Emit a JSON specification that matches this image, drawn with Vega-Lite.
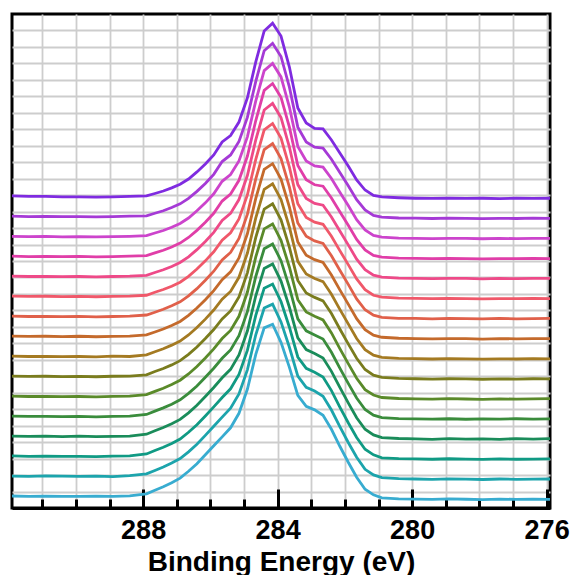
{
"$schema": "https://vega.github.io/schema/vega-lite/v6.json",
"autosize": {"type": "none"},
"width": 538,
"height": 494,
"padding": {"left": 12, "top": 14, "right": 23, "bottom": 67},
"background": "white",
"config": {"view": {"stroke": "black", "strokeWidth": 3}, "font": "Liberation Sans"},
"data": {"values": [
{"s":0,"e":291.9,"y":0.73},{"s":0,"e":291.4,"y":0.71},{"s":0,"e":290.9,"y":0.72},{"s":0,"e":290.4,"y":0.70},{"s":0,"e":289.9,"y":0.71},{"s":0,"e":289.4,"y":0.72},{"s":0,"e":288.9,"y":0.70},{"s":0,"e":288.4,"y":0.74},{"s":0,"e":287.9,"y":0.86},{"s":0,"e":287.65,"y":1.08},{"s":0,"e":287.4,"y":1.29},{"s":0,"e":287.15,"y":1.53},{"s":0,"e":286.9,"y":1.81},{"s":0,"e":286.65,"y":2.23},{"s":0,"e":286.4,"y":2.69},{"s":0,"e":286.15,"y":3.23},{"s":0,"e":285.9,"y":3.78},{"s":0,"e":285.65,"y":4.32},{"s":0,"e":285.4,"y":4.87},{"s":0,"e":285.15,"y":5.75},{"s":0,"e":284.9,"y":7.21},{"s":0,"e":284.65,"y":9.33},{"s":0,"e":284.4,"y":10.94},{"s":0,"e":284.15,"y":11.16},{"s":0,"e":283.9,"y":10.06},{"s":0,"e":283.65,"y":8.54},{"s":0,"e":283.4,"y":6.84},{"s":0,"e":283.15,"y":6.18},{"s":0,"e":282.9,"y":5.96},{"s":0,"e":282.65,"y":5.63},{"s":0,"e":282.4,"y":4.78},{"s":0,"e":282.15,"y":3.75},{"s":0,"e":281.9,"y":2.78},{"s":0,"e":281.65,"y":1.87},{"s":0,"e":281.4,"y":1.14},{"s":0,"e":281.15,"y":0.80},{"s":0,"e":280.9,"y":0.62},{"s":0,"e":280.4,"y":0.56},{"s":0,"e":279.9,"y":0.54},{"s":0,"e":279.4,"y":0.52},{"s":0,"e":278.9,"y":0.55},{"s":0,"e":278.4,"y":0.53},{"s":0,"e":277.9,"y":0.51},{"s":0,"e":277.4,"y":0.54},{"s":0,"e":276.9,"y":0.52},{"s":0,"e":276.4,"y":0.53},{"s":0,"e":275.9,"y":0.52},
{"s":1,"e":291.9,"y":1.94},{"s":1,"e":291.4,"y":1.92},{"s":1,"e":290.9,"y":1.95},{"s":1,"e":290.4,"y":1.93},{"s":1,"e":289.9,"y":1.92},{"s":1,"e":289.4,"y":1.94},{"s":1,"e":288.9,"y":1.91},{"s":1,"e":288.4,"y":1.96},{"s":1,"e":287.9,"y":2.07},{"s":1,"e":287.65,"y":2.28},{"s":1,"e":287.4,"y":2.49},{"s":1,"e":287.15,"y":2.73},{"s":1,"e":286.9,"y":3.00},{"s":1,"e":286.65,"y":3.41},{"s":1,"e":286.4,"y":3.87},{"s":1,"e":286.15,"y":4.41},{"s":1,"e":285.9,"y":4.96},{"s":1,"e":285.65,"y":5.52},{"s":1,"e":285.4,"y":6.06},{"s":1,"e":285.15,"y":6.93},{"s":1,"e":284.9,"y":8.39},{"s":1,"e":284.65,"y":10.52},{"s":1,"e":284.4,"y":12.14},{"s":1,"e":284.15,"y":12.38},{"s":1,"e":283.9,"y":11.30},{"s":1,"e":283.65,"y":9.76},{"s":1,"e":283.4,"y":8.01},{"s":1,"e":283.15,"y":7.33},{"s":1,"e":282.9,"y":7.10},{"s":1,"e":282.65,"y":6.79},{"s":1,"e":282.4,"y":5.95},{"s":1,"e":282.15,"y":4.94},{"s":1,"e":281.9,"y":3.98},{"s":1,"e":281.65,"y":3.08},{"s":1,"e":281.4,"y":2.35},{"s":1,"e":281.15,"y":2.01},{"s":1,"e":280.9,"y":1.84},{"s":1,"e":280.4,"y":1.78},{"s":1,"e":279.9,"y":1.76},{"s":1,"e":279.4,"y":1.74},{"s":1,"e":278.9,"y":1.77},{"s":1,"e":278.4,"y":1.75},{"s":1,"e":277.9,"y":1.73},{"s":1,"e":277.4,"y":1.76},{"s":1,"e":276.9,"y":1.74},{"s":1,"e":276.4,"y":1.75},{"s":1,"e":275.9,"y":1.76},
{"s":2,"e":291.9,"y":3.16},{"s":2,"e":291.4,"y":3.14},{"s":2,"e":290.9,"y":3.15},{"s":2,"e":290.4,"y":3.13},{"s":2,"e":289.9,"y":3.14},{"s":2,"e":289.4,"y":3.12},{"s":2,"e":288.9,"y":3.15},{"s":2,"e":288.4,"y":3.17},{"s":2,"e":287.9,"y":3.28},{"s":2,"e":287.65,"y":3.49},{"s":2,"e":287.4,"y":3.69},{"s":2,"e":287.15,"y":3.92},{"s":2,"e":286.9,"y":4.19},{"s":2,"e":286.65,"y":4.60},{"s":2,"e":286.4,"y":5.06},{"s":2,"e":286.15,"y":5.59},{"s":2,"e":285.9,"y":6.14},{"s":2,"e":285.65,"y":6.71},{"s":2,"e":285.4,"y":7.24},{"s":2,"e":285.15,"y":8.11},{"s":2,"e":284.9,"y":9.57},{"s":2,"e":284.65,"y":11.70},{"s":2,"e":284.4,"y":13.35},{"s":2,"e":284.15,"y":13.60},{"s":2,"e":283.9,"y":12.54},{"s":2,"e":283.65,"y":10.98},{"s":2,"e":283.4,"y":9.17},{"s":2,"e":283.15,"y":8.48},{"s":2,"e":282.9,"y":8.24},{"s":2,"e":282.65,"y":7.95},{"s":2,"e":282.4,"y":7.13},{"s":2,"e":282.15,"y":6.13},{"s":2,"e":281.9,"y":5.18},{"s":2,"e":281.65,"y":4.28},{"s":2,"e":281.4,"y":3.57},{"s":2,"e":281.15,"y":3.23},{"s":2,"e":280.9,"y":3.05},{"s":2,"e":280.4,"y":3.00},{"s":2,"e":279.9,"y":2.98},{"s":2,"e":279.4,"y":2.96},{"s":2,"e":278.9,"y":2.99},{"s":2,"e":278.4,"y":2.97},{"s":2,"e":277.9,"y":2.95},{"s":2,"e":277.4,"y":2.98},{"s":2,"e":276.9,"y":2.96},{"s":2,"e":276.4,"y":2.97},{"s":2,"e":275.9,"y":2.98},
{"s":3,"e":291.9,"y":4.37},{"s":3,"e":291.4,"y":4.35},{"s":3,"e":290.9,"y":4.36},{"s":3,"e":290.4,"y":4.34},{"s":3,"e":289.9,"y":4.36},{"s":3,"e":289.4,"y":4.33},{"s":3,"e":288.9,"y":4.35},{"s":3,"e":288.4,"y":4.37},{"s":3,"e":287.9,"y":4.48},{"s":3,"e":287.65,"y":4.69},{"s":3,"e":287.4,"y":4.89},{"s":3,"e":287.15,"y":5.12},{"s":3,"e":286.9,"y":5.38},{"s":3,"e":286.65,"y":5.78},{"s":3,"e":286.4,"y":6.24},{"s":3,"e":286.15,"y":6.77},{"s":3,"e":285.9,"y":7.32},{"s":3,"e":285.65,"y":7.91},{"s":3,"e":285.4,"y":8.42},{"s":3,"e":285.15,"y":9.29},{"s":3,"e":284.9,"y":10.75},{"s":3,"e":284.65,"y":12.89},{"s":3,"e":284.4,"y":14.55},{"s":3,"e":284.15,"y":14.82},{"s":3,"e":283.9,"y":13.78},{"s":3,"e":283.65,"y":12.19},{"s":3,"e":283.4,"y":10.33},{"s":3,"e":283.15,"y":9.62},{"s":3,"e":282.9,"y":9.38},{"s":3,"e":282.65,"y":9.11},{"s":3,"e":282.4,"y":8.30},{"s":3,"e":282.15,"y":7.32},{"s":3,"e":281.9,"y":6.38},{"s":3,"e":281.65,"y":5.48},{"s":3,"e":281.4,"y":4.78},{"s":3,"e":281.15,"y":4.44},{"s":3,"e":280.9,"y":4.27},{"s":3,"e":280.4,"y":4.22},{"s":3,"e":279.9,"y":4.20},{"s":3,"e":279.4,"y":4.17},{"s":3,"e":278.9,"y":4.21},{"s":3,"e":278.4,"y":4.18},{"s":3,"e":277.9,"y":4.20},{"s":3,"e":277.4,"y":4.17},{"s":3,"e":276.9,"y":4.21},{"s":3,"e":276.4,"y":4.18},{"s":3,"e":275.9,"y":4.21},
{"s":4,"e":291.9,"y":5.58},{"s":4,"e":291.4,"y":5.56},{"s":4,"e":290.9,"y":5.57},{"s":4,"e":290.4,"y":5.55},{"s":4,"e":289.9,"y":5.56},{"s":4,"e":289.4,"y":5.54},{"s":4,"e":288.9,"y":5.56},{"s":4,"e":288.4,"y":5.58},{"s":4,"e":287.9,"y":5.68},{"s":4,"e":287.65,"y":5.88},{"s":4,"e":287.4,"y":6.08},{"s":4,"e":287.15,"y":6.30},{"s":4,"e":286.9,"y":6.57},{"s":4,"e":286.65,"y":6.96},{"s":4,"e":286.4,"y":7.41},{"s":4,"e":286.15,"y":7.94},{"s":4,"e":285.9,"y":8.49},{"s":4,"e":285.65,"y":9.09},{"s":4,"e":285.4,"y":9.60},{"s":4,"e":285.15,"y":10.46},{"s":4,"e":284.9,"y":11.92},{"s":4,"e":284.65,"y":14.06},{"s":4,"e":284.4,"y":15.74},{"s":4,"e":284.15,"y":16.03},{"s":4,"e":283.9,"y":15.02},{"s":4,"e":283.65,"y":13.40},{"s":4,"e":283.4,"y":11.49},{"s":4,"e":283.15,"y":10.76},{"s":4,"e":282.9,"y":10.51},{"s":4,"e":282.65,"y":10.26},{"s":4,"e":282.4,"y":9.46},{"s":4,"e":282.15,"y":8.50},{"s":4,"e":281.9,"y":7.57},{"s":4,"e":281.65,"y":6.68},{"s":4,"e":281.4,"y":5.98},{"s":4,"e":281.15,"y":5.64},{"s":4,"e":280.9,"y":5.49},{"s":4,"e":280.4,"y":5.43},{"s":4,"e":279.9,"y":5.41},{"s":4,"e":279.4,"y":5.40},{"s":4,"e":278.9,"y":5.42},{"s":4,"e":278.4,"y":5.39},{"s":4,"e":277.9,"y":5.41},{"s":4,"e":277.4,"y":5.40},{"s":4,"e":276.9,"y":5.42},{"s":4,"e":276.4,"y":5.40},{"s":4,"e":275.9,"y":5.41},
{"s":5,"e":291.9,"y":6.80},{"s":5,"e":291.4,"y":6.77},{"s":5,"e":290.9,"y":6.78},{"s":5,"e":290.4,"y":6.76},{"s":5,"e":289.9,"y":6.77},{"s":5,"e":289.4,"y":6.75},{"s":5,"e":288.9,"y":6.78},{"s":5,"e":288.4,"y":6.79},{"s":5,"e":287.9,"y":6.89},{"s":5,"e":287.65,"y":7.08},{"s":5,"e":287.4,"y":7.27},{"s":5,"e":287.15,"y":7.50},{"s":5,"e":286.9,"y":7.76},{"s":5,"e":286.65,"y":8.14},{"s":5,"e":286.4,"y":8.59},{"s":5,"e":286.15,"y":9.11},{"s":5,"e":285.9,"y":9.66},{"s":5,"e":285.65,"y":10.29},{"s":5,"e":285.4,"y":10.78},{"s":5,"e":285.15,"y":11.64},{"s":5,"e":284.9,"y":13.10},{"s":5,"e":284.65,"y":15.25},{"s":5,"e":284.4,"y":16.95},{"s":5,"e":284.15,"y":17.25},{"s":5,"e":283.9,"y":16.26},{"s":5,"e":283.65,"y":14.62},{"s":5,"e":283.4,"y":12.65},{"s":5,"e":283.15,"y":11.91},{"s":5,"e":282.9,"y":11.65},{"s":5,"e":282.65,"y":11.42},{"s":5,"e":282.4,"y":10.63},{"s":5,"e":282.15,"y":9.68},{"s":5,"e":281.9,"y":8.77},{"s":5,"e":281.65,"y":7.88},{"s":5,"e":281.4,"y":7.19},{"s":5,"e":281.15,"y":6.86},{"s":5,"e":280.9,"y":6.71},{"s":5,"e":280.4,"y":6.65},{"s":5,"e":279.9,"y":6.63},{"s":5,"e":279.4,"y":6.61},{"s":5,"e":278.9,"y":6.64},{"s":5,"e":278.4,"y":6.62},{"s":5,"e":277.9,"y":6.60},{"s":5,"e":277.4,"y":6.63},{"s":5,"e":276.9,"y":6.61},{"s":5,"e":276.4,"y":6.63},{"s":5,"e":275.9,"y":6.64},
{"s":6,"e":291.9,"y":8.01},{"s":6,"e":291.4,"y":7.99},{"s":6,"e":290.9,"y":8.00},{"s":6,"e":290.4,"y":7.98},{"s":6,"e":289.9,"y":7.99},{"s":6,"e":289.4,"y":7.97},{"s":6,"e":288.9,"y":8.00},{"s":6,"e":288.4,"y":8.01},{"s":6,"e":287.9,"y":8.09},{"s":6,"e":287.65,"y":8.29},{"s":6,"e":287.4,"y":8.47},{"s":6,"e":287.15,"y":8.69},{"s":6,"e":286.9,"y":8.95},{"s":6,"e":286.65,"y":9.33},{"s":6,"e":286.4,"y":9.78},{"s":6,"e":286.15,"y":10.29},{"s":6,"e":285.9,"y":10.84},{"s":6,"e":285.65,"y":11.48},{"s":6,"e":285.4,"y":11.97},{"s":6,"e":285.15,"y":12.82},{"s":6,"e":284.9,"y":14.28},{"s":6,"e":284.65,"y":16.43},{"s":6,"e":284.4,"y":18.15},{"s":6,"e":284.15,"y":18.47},{"s":6,"e":283.9,"y":17.50},{"s":6,"e":283.65,"y":15.83},{"s":6,"e":283.4,"y":13.82},{"s":6,"e":283.15,"y":13.06},{"s":6,"e":282.9,"y":12.79},{"s":6,"e":282.65,"y":12.58},{"s":6,"e":282.4,"y":11.81},{"s":6,"e":282.15,"y":10.87},{"s":6,"e":281.9,"y":9.97},{"s":6,"e":281.65,"y":9.09},{"s":6,"e":281.4,"y":8.41},{"s":6,"e":281.15,"y":8.07},{"s":6,"e":280.9,"y":7.93},{"s":6,"e":280.4,"y":7.87},{"s":6,"e":279.9,"y":7.85},{"s":6,"e":279.4,"y":7.83},{"s":6,"e":278.9,"y":7.85},{"s":6,"e":278.4,"y":7.84},{"s":6,"e":277.9,"y":7.82},{"s":6,"e":277.4,"y":7.84},{"s":6,"e":276.9,"y":7.83},{"s":6,"e":276.4,"y":7.85},{"s":6,"e":275.9,"y":7.84},
{"s":7,"e":291.9,"y":9.22},{"s":7,"e":291.4,"y":9.20},{"s":7,"e":290.9,"y":9.21},{"s":7,"e":290.4,"y":9.19},{"s":7,"e":289.9,"y":9.20},{"s":7,"e":289.4,"y":9.18},{"s":7,"e":288.9,"y":9.22},{"s":7,"e":288.4,"y":9.20},{"s":7,"e":287.9,"y":9.30},{"s":7,"e":287.65,"y":9.49},{"s":7,"e":287.4,"y":9.67},{"s":7,"e":287.15,"y":9.89},{"s":7,"e":286.9,"y":10.14},{"s":7,"e":286.65,"y":10.51},{"s":7,"e":286.4,"y":10.96},{"s":7,"e":286.15,"y":11.47},{"s":7,"e":285.9,"y":12.02},{"s":7,"e":285.65,"y":12.68},{"s":7,"e":285.4,"y":13.15},{"s":7,"e":285.15,"y":14.01},{"s":7,"e":284.9,"y":15.47},{"s":7,"e":284.65,"y":17.62},{"s":7,"e":284.4,"y":19.35},{"s":7,"e":284.15,"y":19.69},{"s":7,"e":283.9,"y":18.74},{"s":7,"e":283.65,"y":17.05},{"s":7,"e":283.4,"y":14.98},{"s":7,"e":283.15,"y":14.21},{"s":7,"e":282.9,"y":13.94},{"s":7,"e":282.65,"y":13.75},{"s":7,"e":282.4,"y":12.98},{"s":7,"e":282.15,"y":12.06},{"s":7,"e":281.9,"y":11.18},{"s":7,"e":281.65,"y":10.29},{"s":7,"e":281.4,"y":9.62},{"s":7,"e":281.15,"y":9.28},{"s":7,"e":280.9,"y":9.15},{"s":7,"e":280.4,"y":9.09},{"s":7,"e":279.9,"y":9.07},{"s":7,"e":279.4,"y":9.05},{"s":7,"e":278.9,"y":9.07},{"s":7,"e":278.4,"y":9.06},{"s":7,"e":277.9,"y":9.04},{"s":7,"e":277.4,"y":9.06},{"s":7,"e":276.9,"y":9.05},{"s":7,"e":276.4,"y":9.07},{"s":7,"e":275.9,"y":9.06},
{"s":8,"e":291.9,"y":10.44},{"s":8,"e":291.4,"y":10.42},{"s":8,"e":290.9,"y":10.43},{"s":8,"e":290.4,"y":10.41},{"s":8,"e":289.9,"y":10.43},{"s":8,"e":289.4,"y":10.40},{"s":8,"e":288.9,"y":10.42},{"s":8,"e":288.4,"y":10.44},{"s":8,"e":287.9,"y":10.51},{"s":8,"e":287.65,"y":10.69},{"s":8,"e":287.4,"y":10.87},{"s":8,"e":287.15,"y":11.08},{"s":8,"e":286.9,"y":11.33},{"s":8,"e":286.65,"y":11.70},{"s":8,"e":286.4,"y":12.14},{"s":8,"e":286.15,"y":12.65},{"s":8,"e":285.9,"y":13.20},{"s":8,"e":285.65,"y":13.87},{"s":8,"e":285.4,"y":14.34},{"s":8,"e":285.15,"y":15.19},{"s":8,"e":284.9,"y":16.65},{"s":8,"e":284.65,"y":18.80},{"s":8,"e":284.4,"y":20.56},{"s":8,"e":284.15,"y":20.91},{"s":8,"e":283.9,"y":19.98},{"s":8,"e":283.65,"y":18.27},{"s":8,"e":283.4,"y":16.15},{"s":8,"e":283.15,"y":15.35},{"s":8,"e":282.9,"y":15.08},{"s":8,"e":282.65,"y":14.91},{"s":8,"e":282.4,"y":14.15},{"s":8,"e":282.15,"y":13.25},{"s":8,"e":281.9,"y":12.38},{"s":8,"e":281.65,"y":11.50},{"s":8,"e":281.4,"y":10.83},{"s":8,"e":281.15,"y":10.50},{"s":8,"e":280.9,"y":10.37},{"s":8,"e":280.4,"y":10.31},{"s":8,"e":279.9,"y":10.29},{"s":8,"e":279.4,"y":10.27},{"s":8,"e":278.9,"y":10.29},{"s":8,"e":278.4,"y":10.28},{"s":8,"e":277.9,"y":10.26},{"s":8,"e":277.4,"y":10.29},{"s":8,"e":276.9,"y":10.27},{"s":8,"e":276.4,"y":10.28},{"s":8,"e":275.9,"y":10.29},
{"s":9,"e":291.9,"y":11.65},{"s":9,"e":291.4,"y":11.63},{"s":9,"e":290.9,"y":11.64},{"s":9,"e":290.4,"y":11.62},{"s":9,"e":289.9,"y":11.64},{"s":9,"e":289.4,"y":11.61},{"s":9,"e":288.9,"y":11.63},{"s":9,"e":288.4,"y":11.65},{"s":9,"e":287.9,"y":11.72},{"s":9,"e":287.65,"y":11.89},{"s":9,"e":287.4,"y":12.07},{"s":9,"e":287.15,"y":12.28},{"s":9,"e":286.9,"y":12.52},{"s":9,"e":286.65,"y":12.88},{"s":9,"e":286.4,"y":13.32},{"s":9,"e":286.15,"y":13.83},{"s":9,"e":285.9,"y":14.38},{"s":9,"e":285.65,"y":15.07},{"s":9,"e":285.4,"y":15.52},{"s":9,"e":285.15,"y":16.37},{"s":9,"e":284.9,"y":17.83},{"s":9,"e":284.65,"y":19.99},{"s":9,"e":284.4,"y":21.76},{"s":9,"e":284.15,"y":22.13},{"s":9,"e":283.9,"y":21.22},{"s":9,"e":283.65,"y":19.49},{"s":9,"e":283.4,"y":17.31},{"s":9,"e":283.15,"y":16.50},{"s":9,"e":282.9,"y":16.22},{"s":9,"e":282.65,"y":16.07},{"s":9,"e":282.4,"y":15.32},{"s":9,"e":282.15,"y":14.44},{"s":9,"e":281.9,"y":13.58},{"s":9,"e":281.65,"y":12.70},{"s":9,"e":281.4,"y":12.04},{"s":9,"e":281.15,"y":11.71},{"s":9,"e":280.9,"y":11.58},{"s":9,"e":280.4,"y":11.52},{"s":9,"e":279.9,"y":11.51},{"s":9,"e":279.4,"y":11.49},{"s":9,"e":278.9,"y":11.51},{"s":9,"e":278.4,"y":11.50},{"s":9,"e":277.9,"y":11.48},{"s":9,"e":277.4,"y":11.51},{"s":9,"e":276.9,"y":11.49},{"s":9,"e":276.4,"y":11.50},{"s":9,"e":275.9,"y":11.51},
{"s":10,"e":291.9,"y":12.87},{"s":10,"e":291.4,"y":12.85},{"s":10,"e":290.9,"y":12.86},{"s":10,"e":290.4,"y":12.84},{"s":10,"e":289.9,"y":12.85},{"s":10,"e":289.4,"y":12.83},{"s":10,"e":288.9,"y":12.85},{"s":10,"e":288.4,"y":12.87},{"s":10,"e":287.9,"y":12.92},{"s":10,"e":287.65,"y":13.10},{"s":10,"e":287.4,"y":13.27},{"s":10,"e":287.15,"y":13.47},{"s":10,"e":286.9,"y":13.71},{"s":10,"e":286.65,"y":14.07},{"s":10,"e":286.4,"y":14.51},{"s":10,"e":286.15,"y":15.01},{"s":10,"e":285.9,"y":15.56},{"s":10,"e":285.65,"y":16.26},{"s":10,"e":285.4,"y":16.71},{"s":10,"e":285.15,"y":17.55},{"s":10,"e":284.9,"y":19.01},{"s":10,"e":284.65,"y":21.17},{"s":10,"e":284.4,"y":22.96},{"s":10,"e":284.15,"y":23.35},{"s":10,"e":283.9,"y":22.46},{"s":10,"e":283.65,"y":20.70},{"s":10,"e":283.4,"y":18.48},{"s":10,"e":283.15,"y":17.65},{"s":10,"e":282.9,"y":17.36},{"s":10,"e":282.65,"y":17.23},{"s":10,"e":282.4,"y":16.50},{"s":10,"e":282.15,"y":15.63},{"s":10,"e":281.9,"y":14.78},{"s":10,"e":281.65,"y":13.91},{"s":10,"e":281.4,"y":13.26},{"s":10,"e":281.15,"y":12.92},{"s":10,"e":280.9,"y":12.80},{"s":10,"e":280.4,"y":12.74},{"s":10,"e":279.9,"y":12.73},{"s":10,"e":279.4,"y":12.71},{"s":10,"e":278.9,"y":12.73},{"s":10,"e":278.4,"y":12.72},{"s":10,"e":277.9,"y":12.70},{"s":10,"e":277.4,"y":12.72},{"s":10,"e":276.9,"y":12.71},{"s":10,"e":276.4,"y":12.73},{"s":10,"e":275.9,"y":12.72},
{"s":11,"e":291.9,"y":14.08},{"s":11,"e":291.4,"y":14.06},{"s":11,"e":290.9,"y":14.07},{"s":11,"e":290.4,"y":14.05},{"s":11,"e":289.9,"y":14.06},{"s":11,"e":289.4,"y":14.04},{"s":11,"e":288.9,"y":14.06},{"s":11,"e":288.4,"y":14.08},{"s":11,"e":287.9,"y":14.13},{"s":11,"e":287.65,"y":14.30},{"s":11,"e":287.4,"y":14.47},{"s":11,"e":287.15,"y":14.67},{"s":11,"e":286.9,"y":14.91},{"s":11,"e":286.65,"y":15.25},{"s":11,"e":286.4,"y":15.69},{"s":11,"e":286.15,"y":16.19},{"s":11,"e":285.9,"y":16.74},{"s":11,"e":285.65,"y":17.46},{"s":11,"e":285.4,"y":17.89},{"s":11,"e":285.15,"y":18.73},{"s":11,"e":284.9,"y":20.19},{"s":11,"e":284.65,"y":22.36},{"s":11,"e":284.4,"y":24.17},{"s":11,"e":284.15,"y":24.57},{"s":11,"e":283.9,"y":23.71},{"s":11,"e":283.65,"y":21.92},{"s":11,"e":283.4,"y":19.64},{"s":11,"e":283.15,"y":18.80},{"s":11,"e":282.9,"y":18.50},{"s":11,"e":282.65,"y":18.39},{"s":11,"e":282.4,"y":17.67},{"s":11,"e":282.15,"y":16.82},{"s":11,"e":281.9,"y":15.98},{"s":11,"e":281.65,"y":15.11},{"s":11,"e":281.4,"y":14.47},{"s":11,"e":281.15,"y":14.14},{"s":11,"e":280.9,"y":14.02},{"s":11,"e":280.4,"y":13.96},{"s":11,"e":279.9,"y":13.95},{"s":11,"e":279.4,"y":13.93},{"s":11,"e":278.9,"y":13.95},{"s":11,"e":278.4,"y":13.94},{"s":11,"e":277.9,"y":13.92},{"s":11,"e":277.4,"y":13.94},{"s":11,"e":276.9,"y":13.93},{"s":11,"e":276.4,"y":13.95},{"s":11,"e":275.9,"y":13.94},
{"s":12,"e":291.9,"y":15.30},{"s":12,"e":291.4,"y":15.27},{"s":12,"e":290.9,"y":15.28},{"s":12,"e":290.4,"y":15.26},{"s":12,"e":289.9,"y":15.28},{"s":12,"e":289.4,"y":15.25},{"s":12,"e":288.9,"y":15.27},{"s":12,"e":288.4,"y":15.29},{"s":12,"e":287.9,"y":15.33},{"s":12,"e":287.65,"y":15.49},{"s":12,"e":287.4,"y":15.65},{"s":12,"e":287.15,"y":15.85},{"s":12,"e":286.9,"y":16.09},{"s":12,"e":286.65,"y":16.43},{"s":12,"e":286.4,"y":16.86},{"s":12,"e":286.15,"y":17.35},{"s":12,"e":285.9,"y":17.90},{"s":12,"e":285.65,"y":18.64},{"s":12,"e":285.4,"y":19.07},{"s":12,"e":285.15,"y":19.90},{"s":12,"e":284.9,"y":21.36},{"s":12,"e":284.65,"y":23.53},{"s":12,"e":284.4,"y":25.36},{"s":12,"e":284.15,"y":25.78},{"s":12,"e":283.9,"y":24.94},{"s":12,"e":283.65,"y":23.13},{"s":12,"e":283.4,"y":20.80},{"s":12,"e":283.15,"y":19.94},{"s":12,"e":282.9,"y":19.63},{"s":12,"e":282.65,"y":19.54},{"s":12,"e":282.4,"y":18.83},{"s":12,"e":282.15,"y":17.99},{"s":12,"e":281.9,"y":17.17},{"s":12,"e":281.65,"y":16.31},{"s":12,"e":281.4,"y":15.67},{"s":12,"e":281.15,"y":15.34},{"s":12,"e":280.9,"y":15.23},{"s":12,"e":280.4,"y":15.17},{"s":12,"e":279.9,"y":15.16},{"s":12,"e":279.4,"y":15.14},{"s":12,"e":278.9,"y":15.16},{"s":12,"e":278.4,"y":15.15},{"s":12,"e":277.9,"y":15.13},{"s":12,"e":277.4,"y":15.15},{"s":12,"e":276.9,"y":15.14},{"s":12,"e":276.4,"y":15.16},{"s":12,"e":275.9,"y":15.15},
{"s":13,"e":291.9,"y":16.50},{"s":13,"e":291.4,"y":16.48},{"s":13,"e":290.9,"y":16.49},{"s":13,"e":290.4,"y":16.47},{"s":13,"e":289.9,"y":16.48},{"s":13,"e":289.4,"y":16.46},{"s":13,"e":288.9,"y":16.48},{"s":13,"e":288.4,"y":16.50},{"s":13,"e":287.9,"y":16.54},{"s":13,"e":287.65,"y":16.70},{"s":13,"e":287.4,"y":16.85},{"s":13,"e":287.15,"y":17.05},{"s":13,"e":286.9,"y":17.28},{"s":13,"e":286.65,"y":17.61},{"s":13,"e":286.4,"y":18.05},{"s":13,"e":286.15,"y":18.53},{"s":13,"e":285.9,"y":19.08},{"s":13,"e":285.65,"y":19.84},{"s":13,"e":285.4,"y":20.25},{"s":13,"e":285.15,"y":21.08},{"s":13,"e":284.9,"y":22.54},{"s":13,"e":284.65,"y":24.72},{"s":13,"e":284.4,"y":26.56},{"s":13,"e":284.15,"y":27.00},{"s":13,"e":283.9,"y":26.18},{"s":13,"e":283.65,"y":24.35},{"s":13,"e":283.4,"y":21.96},{"s":13,"e":283.15,"y":21.08},{"s":13,"e":282.9,"y":20.77},{"s":13,"e":282.65,"y":20.70},{"s":13,"e":282.4,"y":20.01},{"s":13,"e":282.15,"y":19.18},{"s":13,"e":281.9,"y":18.37},{"s":13,"e":281.65,"y":17.51},{"s":13,"e":281.4,"y":16.89},{"s":13,"e":281.15,"y":16.55},{"s":13,"e":280.9,"y":16.45},{"s":13,"e":280.4,"y":16.39},{"s":13,"e":279.9,"y":16.38},{"s":13,"e":279.4,"y":16.36},{"s":13,"e":278.9,"y":16.38},{"s":13,"e":278.4,"y":16.37},{"s":13,"e":277.9,"y":16.35},{"s":13,"e":277.4,"y":16.37},{"s":13,"e":276.9,"y":16.36},{"s":13,"e":276.4,"y":16.38},{"s":13,"e":275.9,"y":16.37},
{"s":14,"e":291.9,"y":17.72},{"s":14,"e":291.4,"y":17.70},{"s":14,"e":290.9,"y":17.71},{"s":14,"e":290.4,"y":17.69},{"s":14,"e":289.9,"y":17.70},{"s":14,"e":289.4,"y":17.68},{"s":14,"e":288.9,"y":17.70},{"s":14,"e":288.4,"y":17.72},{"s":14,"e":287.9,"y":17.74},{"s":14,"e":287.65,"y":17.90},{"s":14,"e":287.4,"y":18.05},{"s":14,"e":287.15,"y":18.25},{"s":14,"e":286.9,"y":18.47},{"s":14,"e":286.65,"y":18.80},{"s":14,"e":286.4,"y":19.23},{"s":14,"e":286.15,"y":19.71},{"s":14,"e":285.9,"y":20.26},{"s":14,"e":285.65,"y":21.04},{"s":14,"e":285.4,"y":21.44},{"s":14,"e":285.15,"y":22.26},{"s":14,"e":284.9,"y":23.72},{"s":14,"e":284.65,"y":25.91},{"s":14,"e":284.4,"y":27.77},{"s":14,"e":284.15,"y":28.22},{"s":14,"e":283.9,"y":27.42},{"s":14,"e":283.65,"y":25.56},{"s":14,"e":283.4,"y":23.13},{"s":14,"e":283.15,"y":22.23},{"s":14,"e":282.9,"y":21.91},{"s":14,"e":282.65,"y":21.86},{"s":14,"e":282.4,"y":21.18},{"s":14,"e":282.15,"y":20.37},{"s":14,"e":281.9,"y":19.57},{"s":14,"e":281.65,"y":18.72},{"s":14,"e":281.4,"y":18.10},{"s":14,"e":281.15,"y":17.77},{"s":14,"e":280.9,"y":17.67},{"s":14,"e":280.4,"y":17.61},{"s":14,"e":279.9,"y":17.60},{"s":14,"e":279.4,"y":17.58},{"s":14,"e":278.9,"y":17.60},{"s":14,"e":278.4,"y":17.59},{"s":14,"e":277.9,"y":17.57},{"s":14,"e":277.4,"y":17.59},{"s":14,"e":276.9,"y":17.58},{"s":14,"e":276.4,"y":17.60},{"s":14,"e":275.9,"y":17.59},
{"s":15,"e":291.9,"y":18.96},{"s":15,"e":291.4,"y":18.93},{"s":15,"e":290.9,"y":18.92},{"s":15,"e":290.4,"y":18.90},{"s":15,"e":289.9,"y":18.90},{"s":15,"e":289.4,"y":18.88},{"s":15,"e":288.9,"y":18.90},{"s":15,"e":288.4,"y":18.92},{"s":15,"e":287.9,"y":18.95},{"s":15,"e":287.65,"y":19.10},{"s":15,"e":287.4,"y":19.25},{"s":15,"e":287.15,"y":19.44},{"s":15,"e":286.9,"y":19.66},{"s":15,"e":286.65,"y":19.98},{"s":15,"e":286.4,"y":20.41},{"s":15,"e":286.15,"y":20.89},{"s":15,"e":285.9,"y":21.44},{"s":15,"e":285.65,"y":22.23},{"s":15,"e":285.4,"y":22.62},{"s":15,"e":285.15,"y":23.44},{"s":15,"e":284.9,"y":24.90},{"s":15,"e":284.65,"y":27.09},{"s":15,"e":284.4,"y":28.97},{"s":15,"e":284.15,"y":29.44},{"s":15,"e":283.9,"y":28.66},{"s":15,"e":283.65,"y":26.78},{"s":15,"e":283.4,"y":24.29},{"s":15,"e":283.15,"y":23.38},{"s":15,"e":282.9,"y":23.05},{"s":15,"e":282.65,"y":23.02},{"s":15,"e":282.4,"y":22.35},{"s":15,"e":282.15,"y":21.56},{"s":15,"e":281.9,"y":20.77},{"s":15,"e":281.65,"y":19.92},{"s":15,"e":281.4,"y":19.31},{"s":15,"e":281.15,"y":18.98},{"s":15,"e":280.9,"y":18.89},{"s":15,"e":280.4,"y":18.84},{"s":15,"e":279.9,"y":18.81},{"s":15,"e":279.4,"y":18.80},{"s":15,"e":278.9,"y":18.82},{"s":15,"e":278.4,"y":18.80},{"s":15,"e":277.9,"y":18.81},{"s":15,"e":277.4,"y":18.79},{"s":15,"e":276.9,"y":18.81},{"s":15,"e":276.4,"y":18.80},{"s":15,"e":275.9,"y":18.81}
]},
"mark": {"type": "line", "strokeWidth": 2.8, "interpolate": "linear"},
"encoding": {
  "x": {
    "field": "e", "type": "quantitative",
    "scale": {"domain": [275.9, 291.9], "reverse": true, "nice": false, "zero": false},
    "axis": {
      "orient": "bottom",
      "values": [276,276.5,277,277.5,278,278.5,279,279.5,280,280.5,281,281.5,282,282.5,283,283.5,284,284.5,285,285.5,286,286.5,287,287.5,288,288.5,289,289.5,290,290.5,291,291.5],
      "format": "d",
      "grid": true, "gridColor": "#cdcdcd", "gridWidth": 1.8,
      "domain": true, "domainColor": "black", "domainWidth": 3,
      "ticks": true, "tickColor": "black", "tickWidth": 3,
      "tickSize": {"condition": {"test": "datum.value % 4 === 0", "value": -19}, "value": -9},
      "tickOpacity": {"condition": {"test": "datum.value % 1 !== 0", "value": 0}, "value": 1},
      "labelExpr": "datum.value % 4 === 0 ? datum.label : ''",
      "labelFont": "Liberation Sans", "labelFontSize": 27, "labelFontWeight": "bold", "labelColor": "black",
      "labelPadding": 28, "labelOverlap": false, "labelFlush": false, "labelBound": false,
      "title": "Binding Energy (eV)", "titleFont": "Liberation Sans", "titleFontSize": 28, "titleFontWeight": "bold", "titleColor": "black",
      "titleY": 62, "titleBaseline": "alphabetic"
    }
  },
  "y": {
    "field": "y", "type": "quantitative",
    "scale": {"domain": [0, 30], "nice": false, "zero": false},
    "axis": {
      "values": [1,2,3,4,5,6,7,8,9,10,11,12,13,14,15,16,17,18,19,20,21,22,23,24,25,26,27,28,29],
      "grid": true, "gridColor": "#cdcdcd", "gridWidth": 1.8,
      "domain": false, "ticks": false, "labels": false, "title": null
    }
  },
  "color": {
    "field": "s", "type": "nominal",
    "scale": {"domain": [0,1,2,3,4,5,6,7,8,9,10,11,12,13,14,15],
      "range": ["#38acd0","#1ca4ac","#109a84","#1a8c5a","#3a8c3c","#5a8a2a","#7a7c1e","#a47a22","#c46a2c","#e0604a","#f0586a","#ee4a88","#e03ea8","#cc44cc","#a53ad6","#7f2be0"]},
    "legend": null
  }
}
}
